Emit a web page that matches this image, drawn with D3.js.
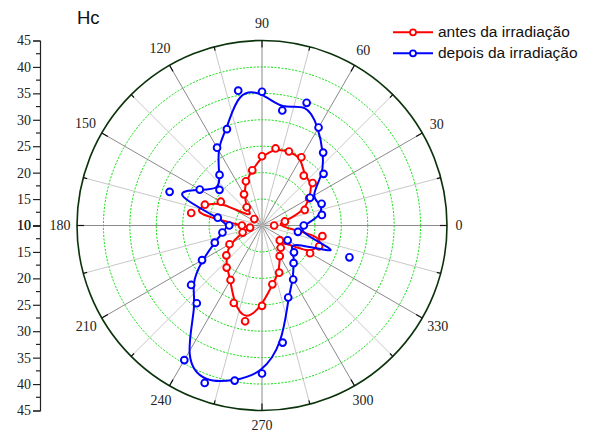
<!DOCTYPE html>
<html>
<head>
<meta charset="utf-8">
<script src="https://cdn.jsdelivr.net/npm/d3@7"></script>
<style>
  html, body { margin: 0; padding: 0; background: #fff; }
  svg { display: block; }
</style>
</head>
<body>
<svg id="chart" width="597" height="432"></svg>
<script>
// Polar angles (degrees) of each measurement
const angles = [0, 10, 20, 30, 40, 50, 60, 70, 80, 90, 100, 110, 120, 130, 140, 150, 160, 170,
                180, 190, 200, 210, 220, 230, 240, 250, 260, 270, 280, 290, 300, 310, 320, 330, 340, 350];

// Hc before irradiation
const antes = [12.3, 14.4, 18.6, 20.3, 22.5, 22.3, 24.9, 24.9, 24.8, 23.1, 20.6, 18.9, 16.8, 14.5, 11.9, 19.0, 21.5, 23.6,
               13.8, 12.3, 13.9, 17.1, 18.8, 20.4, 21.9, 25.6, 28.4, 25.2, 21.3, 19.5, 16.7, 15.5, 14.4, 20.5, 21.5, 21.6];

// Hc after irradiation
const depois = [17.9, 21.5, 22.0, 20.5, 25.2, 28.0, 31.4, 34.7, 32.1, 35.3, 35.9, 29.4, 27.0, 22.5, 20.5, 23.6, 28.6, 18.5,
                16.2, 17.6, 19.5, 23.1, 27.5, 29.2, 39.4, 41.7, 39.8, 38.0, 32.5, 24.5, 21.8, 19.3, 17.9, 15.6, 27.6, 16.9];

const angleLabels = [0, 30, 60, 90, 120, 150, 180, 210, 240, 270, 300, 330];
const spokeAngles = d3.range(0, 360, 15);
const ringValues = [15, 20, 25, 30, 35, 40];
const axisValues = [10, 15, 20, 25, 30, 35, 40, 45];
const axisMinor = [12.5, 17.5, 22.5, 27.5, 32.5, 37.5, 42.5];

const seriesNames = ["antes da irradiação", "depois da irradiação"];
const seriesColors = ["#ff0000", "#0000ff"];

const serif = "'Liberation Serif', 'Times New Roman', Times, serif";
const sans = "'Liberation Sans', Arial, Helvetica, sans-serif";

const svg = d3.select("#chart");
const cx = 262, cy = 225.5, R = 185;
const rScale = d3.scaleLinear().domain([10, 45]).range([0, R]);
const rad = d => d * Math.PI / 180;

const g = svg.append("g").attr("transform", `translate(${cx},${cy})`);

// dotted rings
g.selectAll("circle.ring").data(ringValues).join("circle")
  .attr("class", "ring")
  .attr("r", d => rScale(d))
  .attr("fill", "none")
  .attr("stroke", "#00e000")
  .attr("stroke-width", 1)
  .attr("stroke-dasharray", "2,1.5");

// spokes
g.selectAll("line.spoke").data(spokeAngles).join("line")
  .attr("class", "spoke")
  .attr("x1", 0).attr("y1", 0)
  .attr("x2", d => R * Math.cos(rad(d)))
  .attr("y2", d => -R * Math.sin(rad(d)))
  .attr("stroke", d => d % 30 === 0 ? "#8a8a8a" : "#c8c8c8")
  .attr("stroke-width", 1);

// outer circle
g.append("circle").attr("r", R).attr("fill", "none")
  .attr("stroke", "#0b330b").attr("stroke-width", 1.6);

// ticks on the outer circle
g.selectAll("line.tick").data(spokeAngles).join("line")
  .attr("class", "tick")
  .attr("x1", d => R * Math.cos(rad(d)))
  .attr("y1", d => -R * Math.sin(rad(d)))
  .attr("x2", d => (R - (d % 30 === 0 ? 7 : 4)) * Math.cos(rad(d)))
  .attr("y2", d => -(R - (d % 30 === 0 ? 7 : 4)) * Math.sin(rad(d)))
  .attr("stroke", "#111").attr("stroke-width", 1.2);

// angle labels
const labelRadius = d => {
  const s = String(d).length;
  const sn = Math.sin(rad(d));
  return 197 + (s - 1) * 2.5 * Math.abs(Math.cos(rad(d))) + (sn > 0 ? 5 : 3) * Math.abs(sn);
};
g.selectAll("text.alabel").data(angleLabels).join("text")
  .attr("class", "alabel")
  .attr("x", d => labelRadius(d) * Math.cos(rad(d)))
  .attr("y", d => -labelRadius(d) * Math.sin(rad(d)))
  .attr("text-anchor", "middle")
  .attr("dominant-baseline", "central")
  .attr("font-family", serif)
  .attr("font-size", 14)
  .attr("fill", "#222")
  .text(d => d);

// series: smoothed closed curve plus open markers
const radial = d3.lineRadial()
  .angle(d => rad(90 - d[0]))
  .radius(d => rScale(d[1]))
  .curve(d3.curveBasisClosed);

[antes, depois].forEach((vals, i) => {
  const pts = angles.map((a, j) => [a, vals[j]]);
  const sg = g.append("g");
  sg.append("path")
    .attr("d", radial(pts))
    .attr("fill", "none")
    .attr("stroke", seriesColors[i])
    .attr("stroke-width", 2);
  sg.selectAll("circle").data(pts).join("circle")
    .attr("cx", d => rScale(d[1]) * Math.cos(rad(d[0])))
    .attr("cy", d => -rScale(d[1]) * Math.sin(rad(d[0])))
    .attr("r", 3.4)
    .attr("fill", "#fff")
    .attr("stroke", seriesColors[i])
    .attr("stroke-width", 1.9);
});

// left radial axis (mirrored around the centre value)
const axisX = 40;
const yTop = d3.scaleLinear().domain([10, 45]).range([cy, cy - R]);
const yBot = d3.scaleLinear().domain([10, 45]).range([cy, cy + R]);
const ax = svg.append("g").attr("transform", `translate(${axisX},0)`);
[yTop, yBot].forEach(sc => {
  const a = ax.append("g").call(
    d3.axisLeft(sc).tickValues(axisValues).tickSize(7).tickPadding(2).tickFormat(d3.format("d"))
  );
  a.select(".domain").attr("stroke", "#222").attr("stroke-width", 1.2);
  a.selectAll(".tick line").attr("stroke", "#222").attr("stroke-width", 1.2);
  a.selectAll(".tick text")
    .attr("font-family", serif)
    .attr("font-size", 14).attr("fill", "#222");
  ax.append("g").selectAll("line").data(axisMinor).join("line")
    .attr("x1", -4).attr("x2", 0)
    .attr("y1", d => sc(d)).attr("y2", d => sc(d))
    .attr("stroke", "#222").attr("stroke-width", 1.2);
});

// title
svg.append("text")
  .attr("x", 77).attr("y", 24)
  .attr("font-family", sans)
  .attr("font-size", 18.5)
  .attr("fill", "#111")
  .text("Hc");

// legend
const lg = svg.append("g");
seriesNames.forEach((name, i) => {
  const y = 32.3 + i * 21;
  lg.append("line").attr("x1", 393).attr("x2", 433).attr("y1", y).attr("y2", y)
    .attr("stroke", seriesColors[i]).attr("stroke-width", 2);
  lg.append("circle").attr("cx", 413).attr("cy", y).attr("r", 3)
    .attr("fill", "#fff").attr("stroke", seriesColors[i]).attr("stroke-width", 1.8);
  lg.append("text").attr("x", 438).attr("y", y + 5)
    .attr("font-family", sans)
    .attr("font-size", 15.5).attr("fill", "#111")
    .text(name);
});
</script>
</body>
</html>
